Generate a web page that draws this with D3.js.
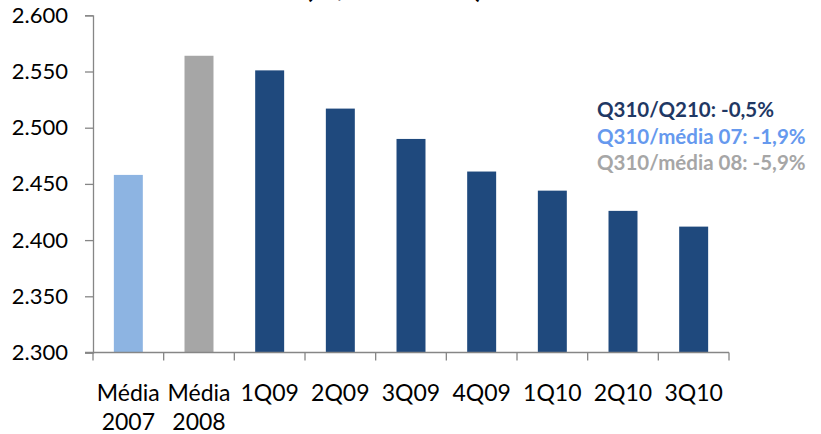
<!DOCTYPE html>
<html>
<head>
<meta charset="utf-8">
<script src="https://cdn.jsdelivr.net/npm/d3@7"></script>
<style>
  body { margin: 0; background: #fff; }
  svg { display: block; font-family: Lato, "Open Sans", sans-serif; }
</style>
</head>
<body>
<svg id="chart" width="821" height="434"></svg>
<script>
// dados do grafico
var categorias = ["Média 2007", "Média 2008", "1Q09", "2Q09", "3Q09", "4Q09", "1Q10", "2Q10", "3Q10"];
var valores = [2.458, 2.564, 2.551, 2.517, 2.490, 2.461, 2.444, 2.426, 2.412];
var cores = ["#8db4e2", "#a6a6a6", "#1f497d", "#1f497d", "#1f497d", "#1f497d", "#1f497d", "#1f497d", "#1f497d"];
var ticksY = [2.30, 2.35, 2.40, 2.45, 2.50, 2.55, 2.60];
var titulo = "(R$/tonelada)";
var notas = ["Q310/Q210: -0,5%", "Q310/média 07: -1,9%", "Q310/média 08: -5,9%"];
var coresNotas = ["#1f3864", "#6699ee", "#a6a6a6"];

var svg = d3.select("#chart");
var mEsq = 93, mDir = 729, mTopo = 15.3, mBase = 352.5;

var x = d3.scaleBand()
  .domain(categorias)
  .range([mEsq, mDir])
  .paddingInner(0.59)
  .paddingOuter(0.295);

var y = d3.scaleLinear()
  .domain([2.3, 2.6])
  .range([mBase, mTopo]);

// titulo cortado no topo
svg.append("text")
  .attr("x", 305)
  .attr("y", -3.5)
  .attr("textLength", 178)
  .attr("lengthAdjust", "spacingAndGlyphs")
  .style("font-weight", "bold")
  .style("font-size", "32px")
  .text(titulo);

// eixo Y
var eixoY = svg.append("g")
  .attr("transform", "translate(" + mEsq + ",0)")
  .call(d3.axisLeft(y).tickValues(ticksY).tickSize(8).tickPadding(17)
    .tickFormat(function(d) { return d3.format(".3f")(d); }));
eixoY.select(".domain").attr("stroke", "#868686").attr("stroke-width", 1.3);
eixoY.selectAll(".tick line").attr("stroke", "#868686").attr("stroke-width", 1.3);
eixoY.selectAll(".tick text")
  .style("font-size", "22px")
  .style("font-family", "Lato, sans-serif")
  .attr("fill", "#000");

// barras
svg.selectAll("rect.barra")
  .data(valores)
  .enter().append("rect")
  .attr("class", "barra")
  .attr("x", function(d, i) { return x(categorias[i]); })
  .attr("width", x.bandwidth())
  .attr("y", function(d) { return y(d); })
  .attr("height", function(d) { return y(2.3) - y(d); })
  .attr("fill", function(d, i) { return cores[i]; });

// eixo X
var passo = x.step();
var gx = svg.append("g");
gx.append("line")
  .attr("x1", mEsq - 8).attr("x2", mDir)
  .attr("y1", mBase).attr("y2", mBase)
  .attr("stroke", "#868686").attr("stroke-width", 1.3);
gx.selectAll("line.tk")
  .data(d3.range(categorias.length + 1))
  .enter().append("line")
  .attr("class", "tk")
  .attr("x1", function(i) { return mEsq + i * passo; })
  .attr("x2", function(i) { return mEsq + i * passo; })
  .attr("y1", mBase).attr("y2", mBase + 8)
  .attr("stroke", "#868686").attr("stroke-width", 1.3);

var rot = gx.selectAll("text.cat")
  .data(categorias)
  .enter().append("text")
  .attr("class", "cat")
  .attr("text-anchor", "middle")
  .attr("x", function(d) { return x(d) + x.bandwidth() / 2; })
  .attr("y", 401)
  .style("font-size", "23px")
  .attr("fill", "#000");
rot.each(function(d) {
  var partes = d.split(" ");
  var t = d3.select(this);
  partes.forEach(function(p, k) {
    t.append("tspan")
      .attr("x", t.attr("x"))
      .attr("dy", k === 0 ? 0 : 29)
      .text(p);
  });
});

// notas a direita
svg.selectAll("text.nota")
  .data(notas)
  .enter().append("text")
  .attr("class", "nota")
  .attr("x", 597)
  .attr("y", function(d, i) { return 117 + i * 26.5; })
  .style("font-size", "20.5px")
  .style("font-weight", "bold")
  .attr("fill", function(d, i) { return coresNotas[i]; })
  .text(function(d) { return d; });
</script>
</body>
</html>
